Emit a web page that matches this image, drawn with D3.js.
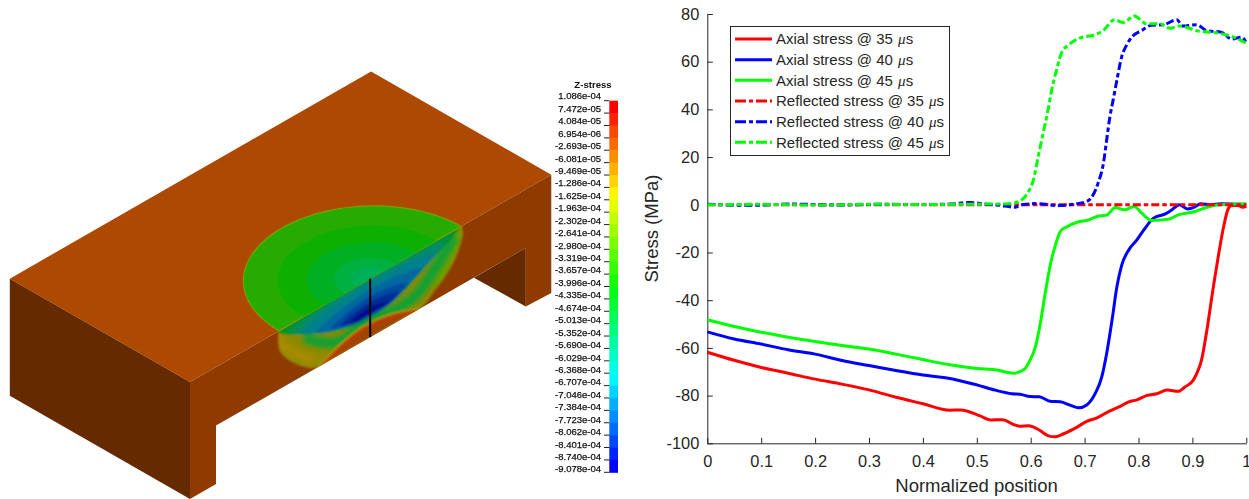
<!DOCTYPE html>
<html><head><meta charset="utf-8">
<script src="https://cdn.jsdelivr.net/npm/d3@7/dist/d3.min.js"></script>
<style>html,body{margin:0;padding:0;background:#fff}svg{display:block}text{font-family:"Liberation Sans",Arial,sans-serif}</style>
</head><body><svg id="c" width="1249" height="499"></svg>
<script>
// ---------- chart data ----------
const axial35X=[0,.05,.1,.15,.2,.25,.3,.35,.4,.45,.47,.506,.525,.548,.568,.58,.596,.615,.633,.645,.661,.686,.704,.723,.745,.766,.782,.797,.816,.834,.853,.874,.886,.902,.911,.917,.927,.939,.949,.958,.967,.973,.985,.993,1];
const axial35Y=[-61.8,-65.2,-68.2,-70.6,-73.1,-75.2,-77.6,-80.7,-83.4,-86.1,-86,-88.5,-90.2,-90.1,-92.1,-92.8,-92.6,-94.3,-96.9,-97.3,-96,-93.2,-90.8,-89.3,-86.6,-84.5,-82.6,-81.8,-79.9,-79.2,-77.7,-78.2,-76.4,-73.4,-69.2,-65,-52.4,-34.2,-20.3,-9.1,-1.4,-.3,-.3,-1,-.6];
const axial40X=[0,.05,.1,.15,.2,.25,.3,.35,.4,.45,.5,.534,.565,.58,.599,.616,.636,.655,.673,.689,.704,.72,.732,.741,.751,.76,.769,.782,.797,.81,.828,.85,.862,.876,.891,.906,.915,.934,.953,1];
const axial40Y=[-53.3,-56.3,-58.4,-60.8,-62.6,-65.3,-67.4,-69.5,-71.4,-72.8,-75.5,-77.7,-79.2,-79.4,-80.4,-80.5,-82.4,-82.6,-84,-85.1,-83.9,-79,-72,-62.2,-48.2,-34.3,-25.2,-18.9,-14.7,-10.5,-5.6,-3.8,-2.1,0,-1.8,-.7,.4,0,.4,0];
const axial45X=[0,.05,.1,.15,.2,.25,.3,.35,.4,.45,.5,.537,.568,.587,.599,.609,.618,.627,.637,.646,.655,.668,.686,.708,.723,.742,.757,.774,.792,.806,.825,.856,.874,.905,.927,.951,1];
const axial45Y=[-48.2,-51,-53.4,-55.5,-57.3,-59,-60.5,-62.6,-64.9,-67.1,-68.6,-69.3,-70.6,-69.2,-65,-59.4,-49.6,-37,-24.5,-16.8,-11.2,-9.1,-7.3,-6.3,-4.9,-4.2,-1.1,-2.1,-.7,-3.5,-6.6,-6,-4.2,-2.8,-1,0,.4];
const refl35X=[0,.25,.5,.75,1];
const refl35Y=[0,0,0,0,0];
const refl40X=[0,.08,.16,.24,.32,.4,.45,.487,.512,.54,.571,.586,.614,.648,.685,.704,.716,.725,.735,.741,.747,.753,.76,.769,.778,.79,.806,.824,.846,.871,.882,.908,.926,.954,.973,.991,1];
const refl40Y=[.2,-.2,.3,-.1,.2,.1,.3,1,.4,-.1,-1,.1,.5,-.3,.4,1.4,4.2,9.1,17.5,27.3,37,44,52.4,62.2,67,70.9,73.1,75.3,75.5,77.6,75,75.5,73.1,72.3,69.5,70.3,68];
const refl45X=[0,.1,.2,.3,.4,.47,.52,.56,.577,.596,.605,.614,.623,.631,.639,.648,.657,.67,.691,.719,.735,.755,.772,.792,.815,.84,.858,.877,.908,.948,.973,1];
const refl45Y=[0,.2,-.1,.2,.1,.2,.3,.4,1.3,5.6,10.5,20.3,30,38.4,48.2,56.6,63.6,67,69.9,71.3,73.1,77.6,76.4,79.2,75.9,75.9,74,75,73,72,70.6,67.8];
const xTicks=[0,.1,.2,.3,.4,.5,.6,.7,.8,.9,1];
const yTicks=[-100,-80,-60,-40,-20,0,20,40,60,80];
const legendNames=["Axial stress @ 35 ","Axial stress @ 40 ","Axial stress @ 45 ","Reflected stress @ 35 ","Reflected stress @ 40 ","Reflected stress @ 45 "];
// ---------- colour bar labels ----------
const barLabels=["1.086e-04","7.472e-05","4.084e-05","6.954e-06","-2.693e-05","-6.081e-05","-9.469e-05","-1.286e-04","-1.625e-04","-1.963e-04","-2.302e-04","-2.641e-04","-2.980e-04","-3.319e-04","-3.657e-04","-3.996e-04","-4.335e-04","-4.674e-04","-5.013e-04","-5.352e-04","-5.690e-04","-6.029e-04","-6.368e-04","-6.707e-04","-7.046e-04","-7.384e-04","-7.723e-04","-8.062e-04","-8.401e-04","-8.740e-04","-9.078e-04"];
// ---------- block model, in block units (u along front, v into depth, w down) ----------
const topFace=[[0,0,0],[3.97,0,0],[3.97,1.98,0],[0,1.98,0]];
const leftFace=[[0,0,0],[0,1.98,0],[0,1.98,2],[0,0,2]];
const frontFace=[[0,0,0],[3.97,0,0],[3.97,0,2.02],[3.69,0,2],[3.69,0,1],[.286,0,1],[.286,0,2],[0,0,2]];
const innerFace=[[3.69,0,1],[3.69,0,2],[3.12,0,1]];
const ringRadii=[1,.73,.5,.28,.15];
const ringFills=["#27ab00","#0eb000","#00b022","#00b040","#00b058"];
const shellUW=[[.97,-.05],[.97,.1],[.99,.37],[1.18,.76],[1.41,1.01],[2.53,1.01],[2.7,.83],[2.89,.56],[3,.15],[2.98,-.05]];
const domeU=[1.41,1.65,1.9,2.2,2.53];
const domeW=[1,.83,.75,.81,1];
const lensU=[.98,1.44,1.835,2.19,2.54,2.96];
const lensW=[.03,.48,.69,.68,.39,0];
const levelLeft=[.98,1.05,1.15,1.25,1.4,1.55,1.65,1.74];
const levelRight=[2.96,2.9,2.8,2.7,2.55,2.4,2.3,2.2];
const levelTop=[-.02,-.02,-.02,.06,.18,.3,.4,.49];
const levelFill=["#0a9212","#009040","#008c6a","#00808c","#0068a0","#0048a0","#002c96","#000f88"];
const levelApex=[1.98,1.98,1.98,1.98,1.98,2,2,2];
const leftWingUW=[[.98,.06],[1.02,.28],[1.2,.6],[1.36,.86]];
const rightWingUW=[[2.95,.08],[2.82,.45],[2.68,.72]];
const midGreenUW=[[1.25,.35],[1.45,.62],[1.65,.78],[1.9,.72],[2.3,.78],[2.5,.72],[2.7,.45],[2.9,.1]];

const svg=d3.select("#c");
const defs=svg.append("defs");
const addBlur=(id,s)=>defs.append("filter").attr("id",id).attr("x","-30%").attr("y","-30%").attr("width","160%").attr("height","160%").append("feGaussianBlur").attr("stdDeviation",s);
addBlur("soft",.45);addBlur("mid",.8);addBlur("softer",2);

// ---------- projection of the block ----------
const px=d3.scaleLinear().domain([0,1]).range([190,281]);
const pyU=d3.scaleLinear().domain([0,1]).range([0,-52.2]);
const pw=d3.scaleLinear().domain([0,1]).range([0,58.5]);
const proj=([u,v,w])=>[px(u)-(px(v)-px(0)),382+pyU(u)+pyU(v)+pw(w)];
const poly=d3.line().curve(d3.curveLinearClosed);
const smooth=d3.line().curve(d3.curveCatmullRomClosed.alpha(.5));
const open=d3.line().curve(d3.curveCatmullRom.alpha(.5));
const left=svg.append("g").attr("filter","url(#soft)");
const face=(pts,fill)=>left.append("path").attr("d",poly(pts.map(proj))).attr("fill",fill);
face(topFace,"#ad4800");face(leftFace,"#662a00");face(frontFace,"#8f3a00");face(innerFace,"#662a00");

const uw=([u,w])=>proj([u,0,w]);
const lensArc=d3.scaleLinear().domain(lensU).range(lensW);
// front-face pocket: clipped to the face, softly blurred, clipped to the shell
defs.append("clipPath").attr("id","fc").append("path").attr("d",poly(frontFace.map(proj)));
defs.append("clipPath").attr("id","sh").append("path").attr("d",open(shellUW.map(uw))+"Z");
const pocket=left.append("g").attr("clip-path","url(#fc)").append("g").attr("filter","url(#mid)").append("g").attr("clip-path","url(#sh)");
pocket.append("path").attr("d",open(shellUW.map(uw))+"Z").attr("fill","#8f8a00");
const blurStroke=(pts,col,w)=>pocket.append("path").attr("d",open(pts.map(uw))).attr("fill","none").attr("stroke",col).attr("stroke-width",w).attr("filter","url(#softer)");
blurStroke(leftWingUW,"#a88a00",9);
blurStroke(rightWingUW,"#6aa000",9);
blurStroke(midGreenUW,"#12a030",11);
// nested contours of the stress band
levelFill.forEach((fill,i)=>{
  const a=levelLeft[i],b=levelRight[i],inset=.012*i;
  const lower=d3.range(0,7).map(k=>{const u=a+(b-a)*k/6;return [u,Math.max(levelTop[i],lensArc(u)-inset)];});
  const apex=[levelApex[i],levelTop[i]];
  const pts=lower.concat([apex]).map(uw);
  pocket.append("path").attr("d",d3.line().curve(d3.curveCatmullRomClosed.alpha(.5))(pts)).attr("fill",fill);
});
// the dome at the lower edge
const dome=domeU.map((u,i)=>[u,domeW[i]]);
pocket.append("path").attr("d",open(dome.map(uw))+"Z").attr("fill","#a04400");
pocket.append("path").attr("d",open(dome.map(([u,w])=>[u,w+.055]).map(uw))).attr("fill","none").attr("stroke","#d03000").attr("stroke-width",1.8);
pocket.append("path").attr("d",open(dome.map(uw))).attr("fill","none").attr("stroke","#b8a000").attr("stroke-width",1.3);
// half disc on the top face, drawn last so the fold stays crisp
const C=1.98;
const half=r=>d3.range(0,181,3).map(a=>proj([C+r*Math.cos(a*Math.PI/180),.97*r*Math.sin(a*Math.PI/180),0]));
ringRadii.forEach((r,i)=>{
  left.append("path").attr("d",poly(half(r))).attr("fill",ringFills[i])
   .attr("stroke",i==0?"#7f9f00":"none").attr("stroke-width",i==0?1.2:0);
});
// redraw the fold-side of the contours darker line is not needed; measuring line
left.append("path").attr("d",d3.line()([uw([C,0]),uw([C,1])])).attr("stroke","#000").attr("stroke-width",2).attr("fill","none");

// ---------- colour bar ----------
const barY=d3.scaleLinear().domain([0,barLabels.length-1]).range([100.7,472.3]);
const labY=d3.scaleLinear().domain([0,barLabels.length-1]).range([99.4,472.4]);
const hue=d3.scaleLinear().domain([0,barLabels.length-2]).range([0,240]);
const bar=svg.append("g").attr("filter","url(#soft)");
bar.selectAll("rect").data(barLabels.slice(1)).join("rect")
 .attr("x",609.3).attr("width",8.7).attr("y",(d,i)=>barY(i)).attr("height",(d,i)=>barY(i+1)-barY(i)+.5)
 .attr("fill",(d,i)=>d3.hsl(hue(i),1,.5).formatHex());
bar.selectAll("line").data(barLabels).join("line")
 .attr("x1",604).attr("x2",609.3).attr("y1",(d,i)=>barY(i)).attr("y2",(d,i)=>barY(i)).attr("stroke","#222").attr("stroke-width",1);
bar.selectAll("text.l").data(barLabels).join("text").attr("class","l")
 .attr("x",601).attr("y",(d,i)=>labY(i)).attr("text-anchor","end").attr("font-size",9.5).attr("fill","#111").attr("stroke","#111").attr("stroke-width",.25).text(d=>d);
bar.append("text").attr("x",593).attr("y",88.3).attr("text-anchor","middle").attr("font-size",9.6).attr("font-weight","bold").attr("fill","#111").text("Z-stress");

// ---------- line chart ----------
const x=d3.scaleLinear().domain([0,1]).range([707.3,1246.3]);
const y=d3.scaleLinear().domain([-100,80]).range([443.3,14]);
const ink="#262626";
const ax=svg.append("g").attr("transform",`translate(0,${y(-100)})`)
 .call(d3.axisBottom(x).tickValues(xTicks).tickFormat(d=>d3.format("~g")(d)).tickSizeInner(-5.5).tickSizeOuter(0).tickPadding(20));
const ay=svg.append("g").attr("transform",`translate(${x(0)},0)`)
 .call(d3.axisLeft(y).tickValues(yTicks).tickFormat(d=>d).tickSizeInner(-5.5).tickSizeOuter(0).tickPadding(8));
[ax,ay].forEach(g=>{g.selectAll("path,line").attr("stroke",ink).attr("stroke-width",1);
 g.selectAll("text").attr("font-size",16.4).attr("fill",ink).attr("font-family",'"Liberation Sans",Arial,sans-serif');});
ax.selectAll("text").attr("dy","0.2em");
svg.append("text").attr("x",976.5).attr("y",492).attr("text-anchor","middle").attr("font-size",18.5).attr("fill",ink).text("Normalized position");
svg.append("text").attr("transform","translate(658,228.5) rotate(-90)").attr("text-anchor","middle").attr("font-size",18.5).attr("fill",ink).text("Stress (MPa)");

const red="#ff0000",blue="#0000ff",green="#00ff00",dash="8,3,4.5,3";
const series=[[axial35X,axial35Y,red,null],[axial40X,axial40Y,blue,null],[axial45X,axial45Y,green,null],
 [refl35X,refl35Y,red,dash],[refl40X,refl40Y,blue,dash],[refl45X,refl45Y,green,dash]];
const lineGen=d3.line().x(d=>x(d[0])).y(d=>y(d[1])).curve(d3.curveMonotoneX);
svg.append("g").selectAll("path").data(series).join("path")
 .attr("d",s=>lineGen(s[0].map((v,i)=>[v,s[1][i]])))
 .attr("fill","none").attr("stroke",s=>s[2]).attr("stroke-width",3).attr("stroke-dasharray",s=>s[3]);

// legend
const lg=svg.append("g");
lg.append("rect").attr("x",730.5).attr("y",26.5).attr("width",219).attr("height",129).attr("fill","#fff").attr("stroke",ink).attr("stroke-width",1);
const rowY=d3.scaleLinear().domain([0,5]).range([39,142.3]);
const rows=lg.selectAll("g").data(series).join("g").attr("transform",(d,i)=>`translate(0,${rowY(i)})`);
rows.append("line").attr("x1",735).attr("x2",772).attr("stroke",s=>s[2]).attr("stroke-width",3).attr("stroke-dasharray",s=>s[3]?"11,3,4,3":null);
const t=rows.append("text").attr("x",776).attr("y",5.3).attr("font-size",15).attr("fill",ink).text((d,i)=>legendNames[i]);
t.append("tspan").attr("font-family",'"Liberation Serif",serif').attr("font-style","italic").attr("dx",1).text("\u03bc");
t.append("tspan").text("s");
</script></body></html>
